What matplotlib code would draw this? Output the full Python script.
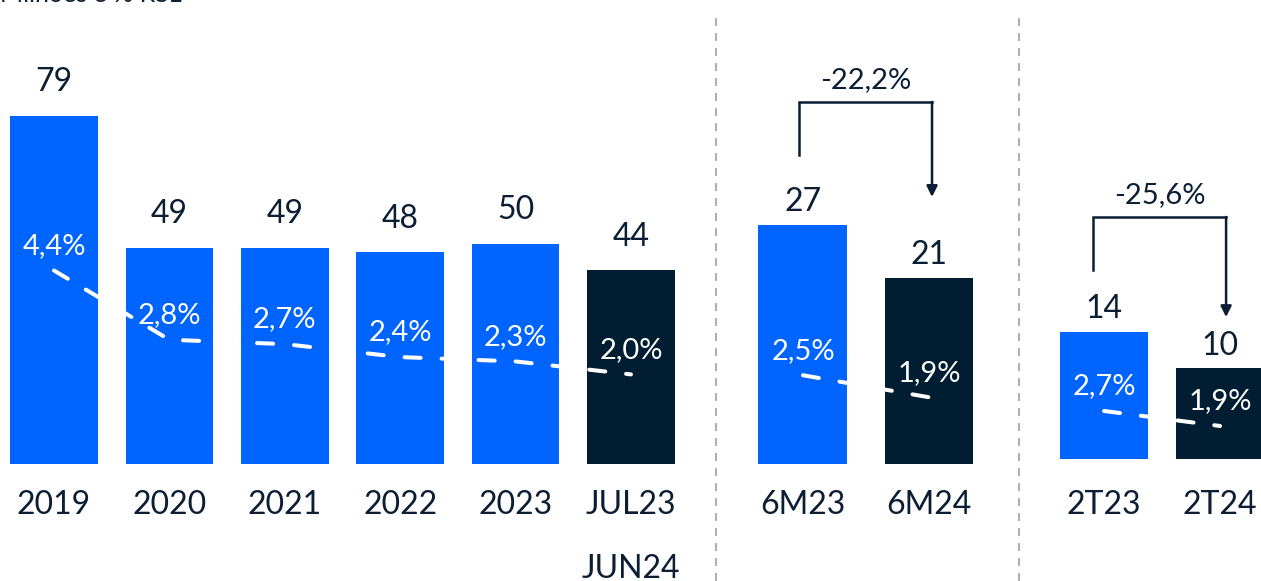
import numpy as np
import matplotlib
matplotlib.use('Agg')
import matplotlib.pyplot as plt
from matplotlib.lines import Line2D

plt.rcParams['font.family'] = ['Lato', 'DejaVu Sans']

blue = '#0064ff'
navy = '#011d31'
txt = '#0b1e33'

# data
cats1 = ['2019', '2020', '2021', '2022', '2023', 'JUL23\nJUN24']
vals1 = [79, 49, 49, 48, 50, 44]
pct1 = [4.4, 2.8, 2.7, 2.4, 2.3, 2.0]
cols1 = [blue, blue, blue, blue, blue, navy]

cats2 = ['6M23', '6M24']
vals2 = [27, 21]
pct2 = [2.5, 1.9]
var2 = '-22,2%'

cats3 = ['2T23', '2T24']
vals3 = [14, 10]
pct3 = [2.7, 1.9]
var3 = '-25,6%'

W, H = 1261, 581
fig = plt.figure(figsize=(W / 100, H / 100), dpi=100)


def fmt(p):
    return ('%.1f%%' % p).replace('.', ',')


def panel(x0, x1, xlim, ylim, plim, cats, vals, pct, cols, width, voff):
    ax = fig.add_axes([x0 / W, 0, (x1 - x0) / W, 1])
    ax.set_xlim(*xlim)
    ax.set_ylim(*ylim)
    ax.axis('off')
    x = np.arange(len(vals))
    ax.bar(x, vals, width=width, color=cols, zorder=2)
    for i, v in enumerate(vals):
        ax.annotate(str(v), (i, v), xytext=(0, voff), textcoords='offset points',
                    ha='center', va='baseline', fontsize=23, color=txt)
    for i, c in enumerate(cats):
        for j, part in enumerate(c.split('\n')):
            ax.text(i, 1 - 514.5 / H - j * 63 / H, part, transform=ax.get_xaxis_transform(),
                    ha='center', va='baseline', fontsize=23, color=txt)
    # percentage line on its own scale
    ax2 = ax.twinx()
    ax2.set_ylim(*plim)
    ax2.axis('off')
    ln, = ax2.plot(x, pct, color='white', lw=2.9, zorder=3,
                   dash_capstyle='round', solid_capstyle='round')
    ln.set_dashes((4.0, 5.2))
    for i, p in enumerate(pct):
        ax2.annotate(fmt(p), (i, p), xytext=(0, 12), textcoords='offset points',
                     ha='center', va='baseline', fontsize=21, color='white', zorder=4)
    return ax


ax1 = panel(0, 716, (-0.468, 5.737), (-117 / 4.41, 464 / 4.41), (-120 / 43.3, 461 / 43.3),
            cats1, vals1, pct1, cols1, 0.76, 17.6)
ax2 = panel(716, 1019, (-0.690, 1.714), (-117 / 8.86, 464 / 8.86), (-114 / 36.7, 467 / 36.7),
            cats2, vals2, pct2, [blue, navy], 0.706, 9.7)
ax3 = panel(1019, 1261, (-0.733, 1.353), (-122 / 9.1, 459 / 9.1), (-119.4 / 18.75, 461.6 / 18.75),
            cats3, vals3, pct3, [blue, navy], 0.76, 9.7)


def bracket(ax, xl, xr, ylow, ytop, tip, label):
    ax.plot([xl, xl, xr], [ylow, ytop, ytop], color=txt, lw=1.8, zorder=5,
            solid_joinstyle='miter', clip_on=False)
    ax.annotate('', xy=(xr, tip), xytext=(xr, ytop),
                arrowprops=dict(arrowstyle='-|>', lw=1.8, color=txt, shrinkA=0, shrinkB=0,
                                mutation_scale=16))
    ax.annotate(label, ((xl + xr) / 2, ytop), xytext=(0, 9.7), textcoords='offset points',
                ha='center', va='baseline', fontsize=21, color=txt)


bracket(ax2, -0.032, 1.024, 34.88, 40.86, 30.14, var2)
bracket(ax3, -0.095, 1.052, 20.8, 26.6, 15.6, var3)

# dashed separators
for xp in [716, 1019]:
    fig.add_artist(Line2D([xp / W, xp / W], [0, 1 - 13 / H], color='#b0b0b0', lw=1.5,
                          dashes=(3.8, 3.4)))

# heading, mostly cut off at the top edge as in the source
fig.text(0, 1 - 2 / H, 'Milhões e % RSL', ha='left', va='baseline', fontsize=18, color=txt)

fig.savefig('out.png', dpi=100)
